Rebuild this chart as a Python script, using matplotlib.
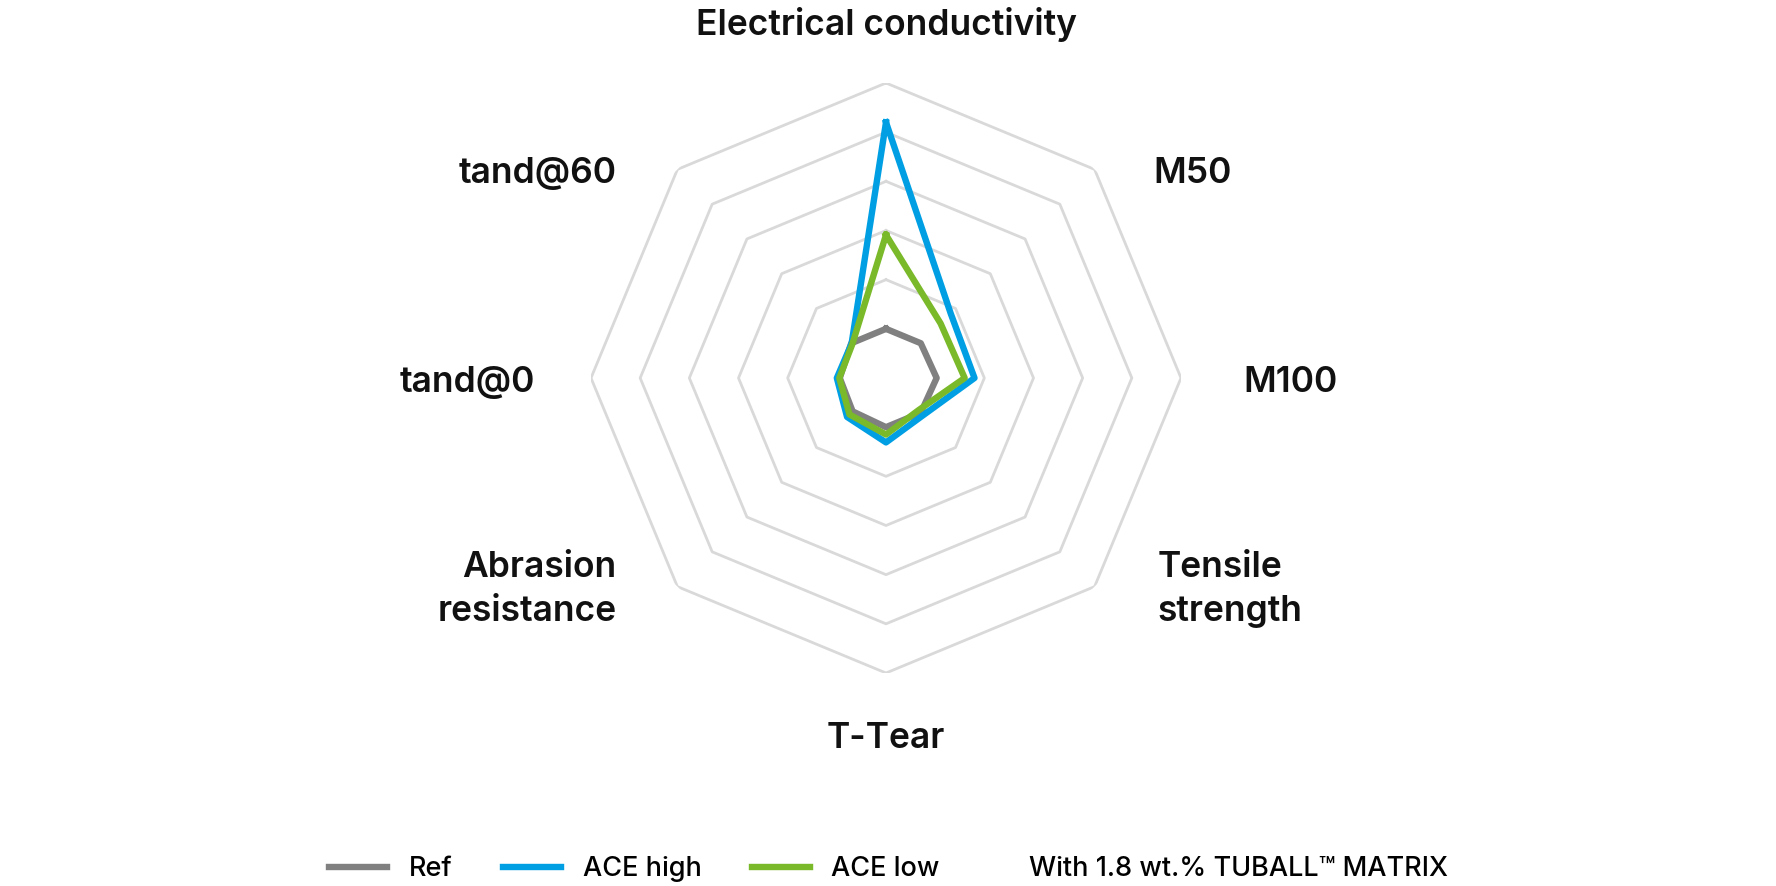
import numpy as np
import matplotlib
matplotlib.use("Agg")
import matplotlib.pyplot as plt
from matplotlib.lines import Line2D

plt.rcParams['font.family'] = ['Inter', 'DejaVu Sans']

# categories, clockwise from the top
categories = ["Electrical conductivity", "M50", "M100", "Tensile\nstrength",
              "T-Tear", "Abrasion\nresistance", "tand@0", "tand@60"]

ref = [1.0, 1.0, 1.03, 1.0, 1.0, 0.96, 0.94, 1.0]
ace_high = [5.2, 1.86, 1.8, 1.07, 1.31, 1.12, 1.0, 0.99]
ace_low = [2.91, 1.57, 1.6, 0.93, 1.15, 1.05, 0.95, 0.97]

series_names = ["Ref", "ACE high", "ACE low"]
series_colors = ["#808080", "#009fe3", "#7ab929"]
ring_levels = [2, 3, 4, 5, 6]
note = "With 1.8 wt.% TUBALL\u2122 MATRIX"

W, H = 1776, 886
fig = plt.figure(figsize=(W / 100, H / 100), dpi=100)
# center (886, 378) px, outer ring radius 295 px
cx, cy, R = 886, 378, 295
ax = fig.add_axes([(cx - R) / W, (H - cy - R) / H, 2 * R / W, 2 * R / H], polar=True)
ax.set_theta_offset(np.pi / 2)
ax.set_theta_direction(-1)
ax.set_ylim(0, 6)
ax.grid(False)
ax.spines['polar'].set_visible(False)
ax.set_xticks([])
ax.set_yticks([])
ax.patch.set_alpha(0)

n = len(categories)
angles = np.linspace(0, 2 * np.pi, n, endpoint=False)
closed = np.append(angles, angles[0])

# octagon grid
for lvl in ring_levels:
    ax.plot(closed, [lvl] * (n + 1), color="#d9d9d9", lw=2.0, zorder=1)

for vals, name, col in zip([ref, ace_high, ace_low], series_names, series_colors):
    ax.plot(closed, list(vals) + [vals[0]], color=col, lw=4.6, zorder=3,
            solid_joinstyle='round', label=name)

# axis labels, offset in pixels from the outer vertex
offsets = [(0, 58), (59, -4), (62, -4), (63, -3), (0, -66), (-61, -3), (-56, -4), (-61, -4)]
for ang, lab, off in zip(angles, categories, offsets):
    if off[0] > 0:
        ha = 'left'
    elif off[0] < 0:
        ha = 'right'
    else:
        ha = 'center'
    ax.annotate(lab, xy=(ang, 6), xytext=off, textcoords='offset pixels',
                ha=ha, va='center', multialignment=ha if ha != 'center' else 'center',
                fontsize=25.5, fontweight='semibold', color='#111111',
                linespacing=1.4, annotation_clip=False)

handles = [Line2D([], [], color=c, lw=4.6) for c in series_colors]
fig.legend(handles, series_names, loc='center left',
           bbox_to_anchor=(329 / W, 1 - 869 / H), ncol=3, frameon=False,
           prop={'size': 19.5, 'weight': 'medium'},
           handlelength=2.15, handletextpad=0.8, columnspacing=1.85,
           borderpad=0, borderaxespad=0)
fig.text(1029 / W, 1 - 869 / H, note, ha='left', va='center', fontsize=19.5,
         fontweight='medium')

fig.savefig("out.png", dpi=100)
